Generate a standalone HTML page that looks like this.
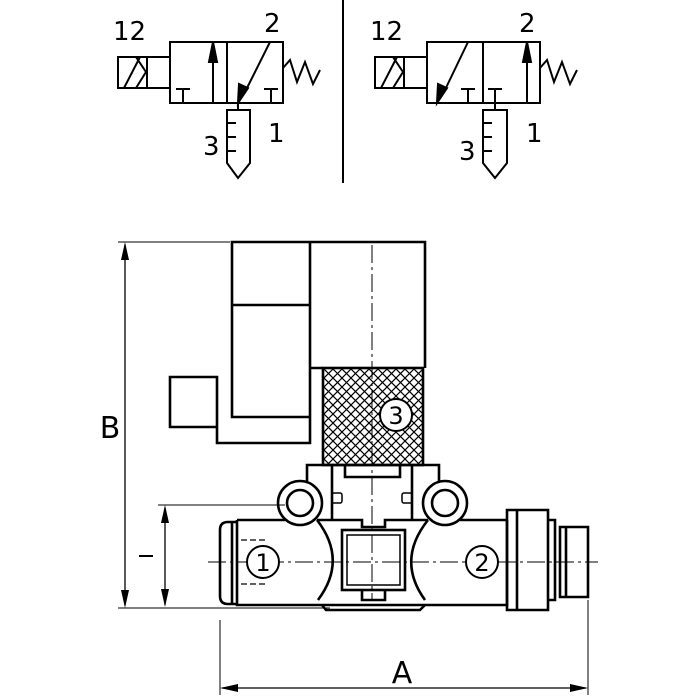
<!DOCTYPE html>
<html><head><style>body{margin:0;background:#fff}svg{display:block}text{font-family:"DejaVu Sans","Liberation Sans",sans-serif;fill:#000}</style></head><body>
<svg width="700" height="700" viewBox="0 0 700 700" xmlns="http://www.w3.org/2000/svg">
<defs>
<pattern id="h" width="9" height="9" patternUnits="userSpaceOnUse"><path d="M0 0L9 9M9 0L0 9" stroke="#000" stroke-width="1.2"/></pattern>
</defs>
<g stroke="#000" fill="none" stroke-width="2">
<rect x="118" y="57" width="29" height="31"/>
<path d="M124 88L140 57M136 57L146 72L136 88M147 57H170M147 88H170"/>
<rect x="170" y="42" width="113" height="61"/><path d="M227 42V103"/>
<path d="M213 103V55"/><path d="M213 42l-4 20h8z" fill="#000"/>
<path d="M183 103V89M176 89H190M271 103V89M264 89H278"/>
<path d="M270 42L244 94"/><path d="M238 103l1-19 9 4z" fill="#000"/>
<path d="M283 68L290 60L297 82L305 62L313 84L320 70"/>
<path d="M238 103V110"/><path d="M227 110H250V163L238 178L227 163Z"/>
<path d="M227 123H236M227 137H236M227 151H236"/>
<path d="M343 0V183"/>
<rect x="375" y="57" width="29" height="31"/>
<path d="M381 88L397 57M393 57L403 72L393 88M404 57H427M404 88H427"/>
<rect x="427" y="42" width="113" height="61"/><path d="M483 42V103"/>
<path d="M468 42L443 94"/><path d="M437 103l1-19 9 4z" fill="#000"/>
<path d="M468 103V89M461 89H475M495 89V110M488 89H502"/>
<path d="M527 103V55"/><path d="M527 42l-4 20h8z" fill="#000"/>
<path d="M540 68L547 60L554 82L562 62L570 84L577 70"/>
<path d="M483 110H507V163L495 178L483 163Z"/>
<path d="M483 123H492M483 137H492M483 151H492"/>
</g>
<g font-size="26">
<text x="113" y="40">12</text><text x="264" y="32">2</text><text x="203" y="155">3</text><text x="268" y="142">1</text>
<text x="370" y="40">12</text><text x="519" y="32">2</text><text x="459" y="160">3</text><text x="526" y="142">1</text>
</g>
<g stroke="#000" fill="none" stroke-width="2.6">
<path d="M232 377V242H425V368"/>
<path d="M310 242V443H217V427H170V377H217V427"/>
<path d="M232 377V417H310M232 305H310M310 368H323"/>
<rect x="323" y="368" width="100" height="97" fill="url(#h)"/>
<path d="M307 520V465H439V520"/>
<path d="M345 465V477H400V465M332 465V520M412 465V520"/>
<rect x="332" y="493" width="10" height="10" rx="2" stroke-width="1.5"/><rect x="402" y="493" width="10" height="10" rx="2" stroke-width="1.5"/>
<circle cx="300" cy="503" r="22" fill="#fff"/><circle cx="300" cy="503" r="13"/>
<circle cx="445" cy="503" r="22" fill="#fff"/><circle cx="445" cy="503" r="13"/>
<path d="M237 520H285M317 520H362V527H385V520H428M460 520H507"/>
<path d="M237 520V605H507V520"/>
<path d="M317 520Q348 560 318 600M428 520Q396 560 425 600"/>
<rect x="342" y="530" width="63" height="60"/><rect x="347" y="535" width="53" height="50" stroke-width="1.5"/>
<path d="M322 605L326 610H420L425 605M362 590V600H385V590"/>
<path d="M237 522H228Q220 522 220 530V596Q220 604 228 604H237M232 522V604"/>
<path d="M507 510H548V610H507ZM517 510V610M548 520H555V600H548M560 527H588V597H560ZM566 527V597"/>
</g>
<path d="M241 540H265M241 584H265" stroke="#000" stroke-width="1.3" stroke-dasharray="6 3"/>
<g stroke="#000" fill="none" stroke-width="1">
<path d="M372 245V600M208 562H598" stroke-dasharray="18 4 3 4"/>
<path d="M118 242H230M118 608H220M158 505H285M158 608H330M220 620V695M588 600V695"/>
<path d="M125 245V605M165 508V605M222 688H586" stroke-width="1.3"/>
</g>
<path d="M125 242l-4 18h8zM125 608l-4-18h8zM165 505l-4 18h8zM165 607l-4-18h8zM220 688l18-4v8zM588 688l-18-4v8z"/>
<g stroke="#000" stroke-width="2" fill="#fff">
<circle cx="263" cy="562" r="16"/><circle cx="482" cy="562" r="16"/><circle cx="396" cy="415" r="16"/>
</g>
<g font-size="24" text-anchor="middle">
<text x="263" y="571">1</text><text x="482" y="571">2</text><text x="396" y="424">3</text>
<text x="110" y="438" font-size="30">B</text><text x="402" y="683" font-size="30">A</text>
</g>
<path d="M139 556H153" stroke="#000" stroke-width="2"/>
</svg>
</body></html>
